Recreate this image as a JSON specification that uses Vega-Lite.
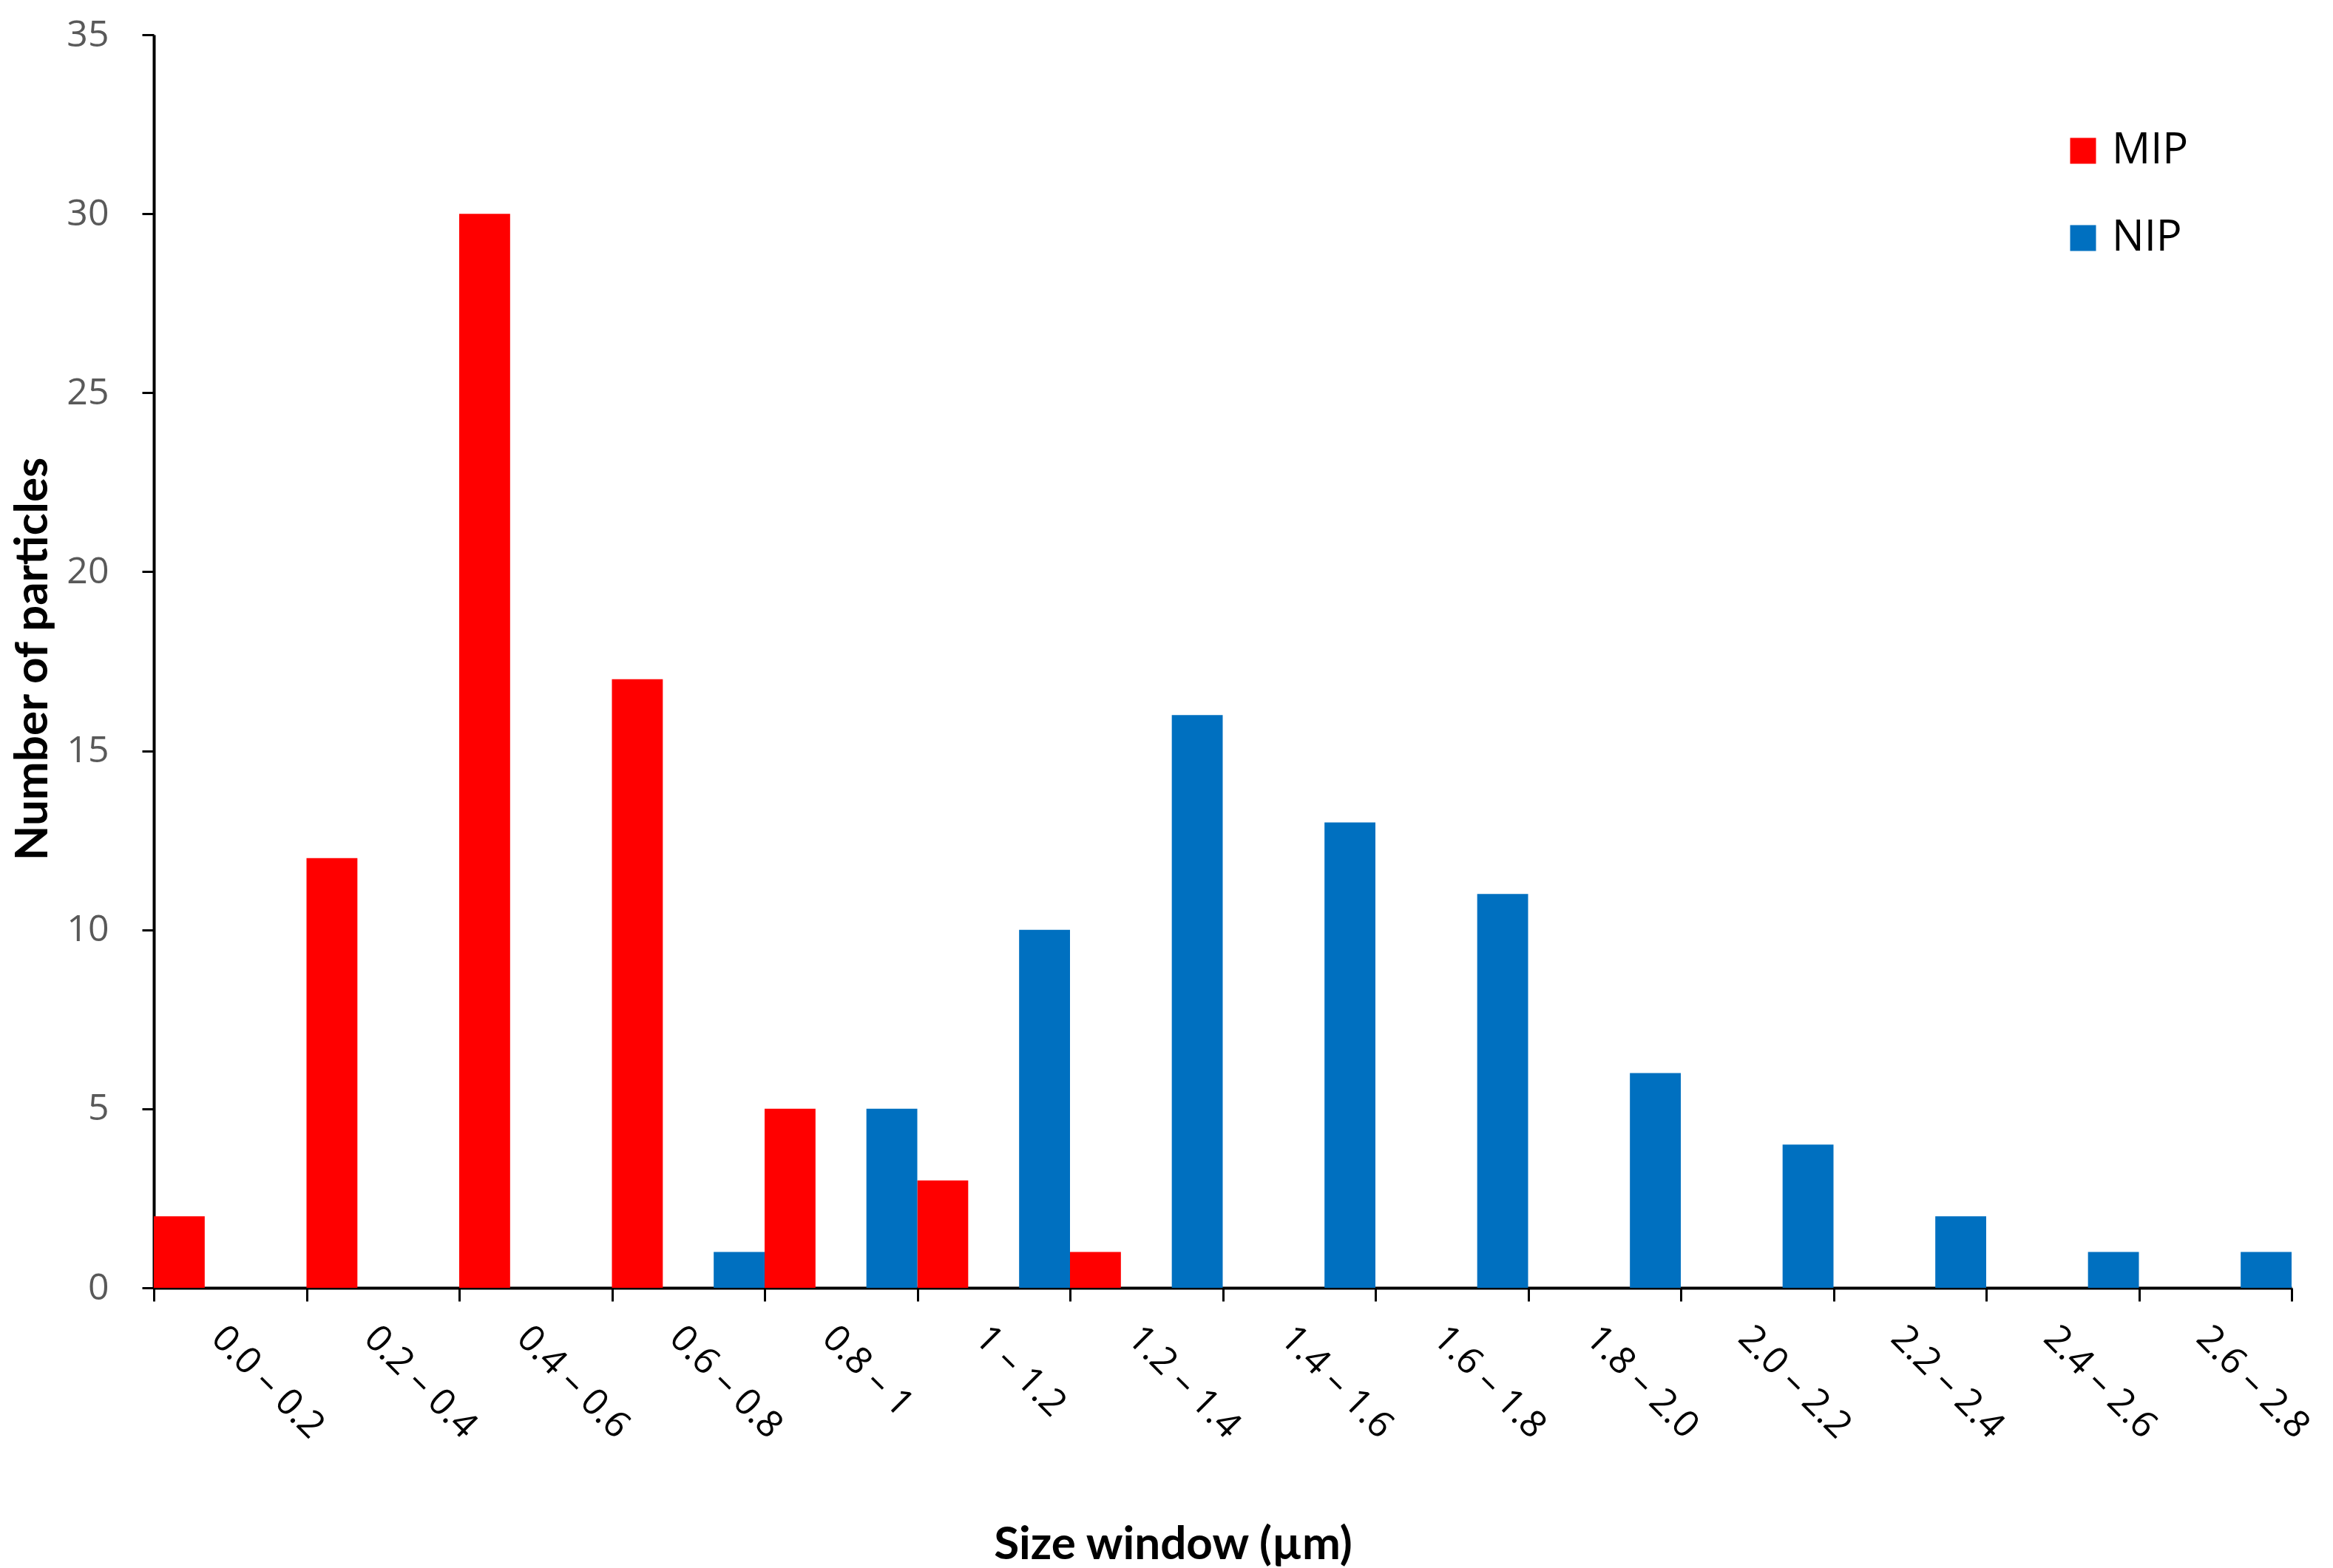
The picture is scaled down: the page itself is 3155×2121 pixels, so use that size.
{
  "$schema": "https://vega.github.io/schema/vega-lite/v6.json",
  "autosize": "none",
  "width": 2891,
  "height": 1695,
  "padding": {"left": 208, "top": 47, "right": 56, "bottom": 379},
  "background": "white",
  "config": {"view": {"stroke": null}},
  "data": {
    "values": [
      {"window": "0.0 – 0.2", "series": "MIP", "count": 2},
      {"window": "0.2 – 0.4", "series": "MIP", "count": 12},
      {"window": "0.4 – 0.6", "series": "MIP", "count": 30},
      {"window": "0.6 – 0.8", "series": "MIP", "count": 17},
      {"window": "0.8 – 1", "series": "MIP", "count": 5},
      {"window": "1 – 1.2", "series": "MIP", "count": 3},
      {"window": "1.2 – 1.4", "series": "MIP", "count": 1},
      {"window": "1.4 – 1.6", "series": "MIP", "count": 0},
      {"window": "1.6 – 1.8", "series": "MIP", "count": 0},
      {"window": "1.8 – 2.0", "series": "MIP", "count": 0},
      {"window": "2.0 – 2.2", "series": "MIP", "count": 0},
      {"window": "2.2 – 2.4", "series": "MIP", "count": 0},
      {"window": "2.4 – 2.6", "series": "MIP", "count": 0},
      {"window": "2.6 – 2.8", "series": "MIP", "count": 0},
      {"window": "0.0 – 0.2", "series": "NIP", "count": 0},
      {"window": "0.2 – 0.4", "series": "NIP", "count": 0},
      {"window": "0.4 – 0.6", "series": "NIP", "count": 0},
      {"window": "0.6 – 0.8", "series": "NIP", "count": 1},
      {"window": "0.8 – 1", "series": "NIP", "count": 5},
      {"window": "1 – 1.2", "series": "NIP", "count": 10},
      {"window": "1.2 – 1.4", "series": "NIP", "count": 16},
      {"window": "1.4 – 1.6", "series": "NIP", "count": 13},
      {"window": "1.6 – 1.8", "series": "NIP", "count": 11},
      {"window": "1.8 – 2.0", "series": "NIP", "count": 6},
      {"window": "2.0 – 2.2", "series": "NIP", "count": 4},
      {"window": "2.2 – 2.4", "series": "NIP", "count": 2},
      {"window": "2.4 – 2.6", "series": "NIP", "count": 1},
      {"window": "2.6 – 2.8", "series": "NIP", "count": 1}
    ]
  },
  "mark": {"type": "bar"},
  "encoding": {
    "x": {
      "field": "window",
      "type": "nominal",
      "sort": null,
      "scale": {"paddingInner": 0, "paddingOuter": 0},
      "axis": {
        "title": "Size window (µm)",
        "titleFont": "Lato",
        "titleFontWeight": "bold",
        "titleFontSize": 62,
        "titleColor": "#000000",
        "titleX": 1378,
        "titleY": 366,
        "titleAlign": "center",
        "titleBaseline": "alphabetic",
        "labelAngle": 45,
        "labelAlign": "left",
        "labelBaseline": "top",
        "labelFont": "Open Sans",
        "labelFontSize": 50,
        "labelColor": "#000000",
        "labelPadding": 24,
        "labelLimit": 500,
        "tickBand": "extent",
        "tickSize": 18,
        "tickWidth": 3,
        "tickColor": "#000000",
        "domainColor": "#000000",
        "domainWidth": 4,
        "grid": false
      }
    },
    "xOffset": {
      "field": "series",
      "type": "nominal",
      "scale": {"domain": ["MIP", "gap", "NIP"], "paddingInner": 0, "paddingOuter": 0}
    },
    "y": {
      "field": "count",
      "type": "quantitative",
      "scale": {"domain": [0, 35], "nice": false},
      "axis": {
        "title": "Number of particles",
        "titleFont": "Lato",
        "titleFontWeight": "bold",
        "titleFontSize": 62,
        "titleColor": "#000000",
        "titleAngle": -90,
        "titleX": -164,
        "titleY": 844,
        "titleAlign": "center",
        "titleBaseline": "middle",
        "values": [0, 5, 10, 15, 20, 25, 30, 35],
        "labelFont": "Open Sans",
        "labelFontSize": 50,
        "labelColor": "#595959",
        "labelPadding": 45,
        "tickSize": 16,
        "tickWidth": 3,
        "tickColor": "#000000",
        "domainColor": "#000000",
        "domainWidth": 4,
        "grid": false
      }
    },
    "color": {
      "field": "series",
      "type": "nominal",
      "scale": {"domain": ["MIP", "NIP"], "range": ["#FF0000", "#0070C0"]},
      "legend": {
        "title": null,
        "orient": "none",
        "legendX": 2580,
        "legendY": 128,
        "symbolType": "square",
        "symbolSize": 1225,
        "symbolStrokeWidth": 0,
        "labelFont": "Open Sans",
        "labelFontSize": 58,
        "labelColor": "#000000",
        "labelOffset": 10,
        "rowPadding": 60
      }
    }
  }
}
